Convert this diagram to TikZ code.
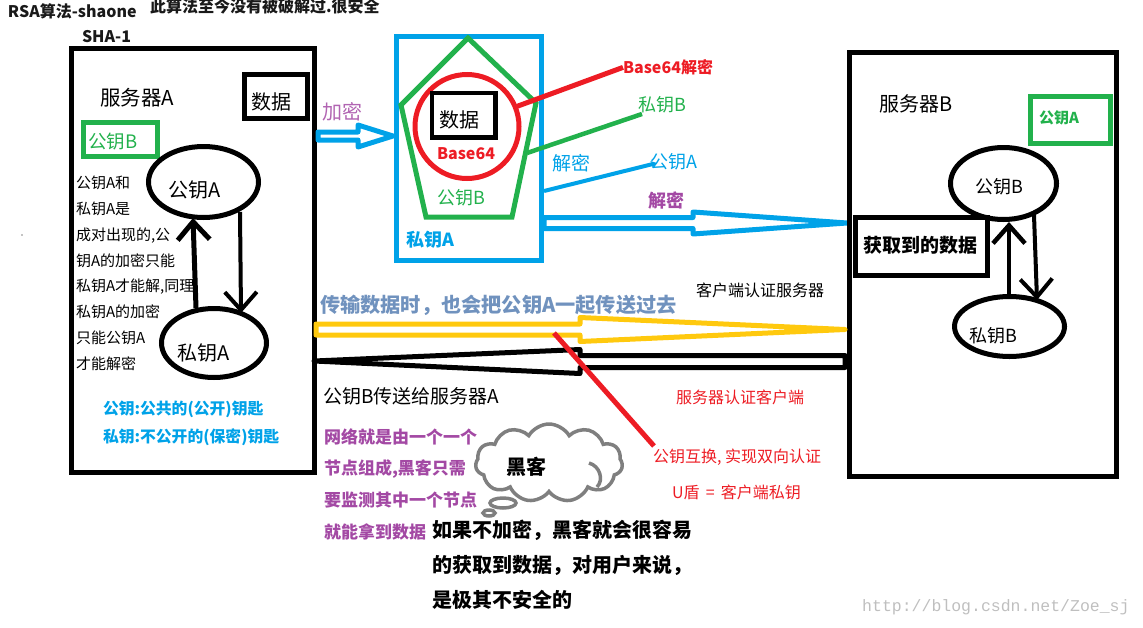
\documentclass[tikz,border=0pt]{standalone}
\usepackage{fontspec}
\setmainfont{Noto Sans CJK SC}
\newfontfamily\markfont{Liberation Mono}
\usetikzlibrary{calc,arrows.meta,shapes.geometric,shapes.symbols}
\definecolor{skyline}{HTML}{00A2E8}
\definecolor{leaf}{HTML}{22B14C}
\definecolor{alarm}{HTML}{ED1C24}
\definecolor{plum}{HTML}{A349A4}
\definecolor{amber}{HTML}{FFC90E}
\definecolor{steel}{HTML}{7092BE}
\definecolor{smoke}{HTML}{7F7F7F}
\tikzset{
    txt/.style={anchor=mid west, inner sep=0pt, outer sep=0pt, yshift={-0.24pt*#1}, font=\fontsize{#1}{#1}\selectfont},
    btxt/.style={anchor=mid west, inner sep=0pt, outer sep=0pt, yshift={-0.24pt*#1}, font=\fontsize{#1}{#1}\selectfont\bfseries},
    frame/.style={draw=#1, line width=5pt, rectangle, inner sep=0pt, outer sep=0pt, anchor=north west},
    keyoval/.style={draw, line width=5pt, ellipse, inner sep=0pt, outer sep=0pt},
    barbed/.style={line width=#1, -{Straight Barb[length=18pt,width=32pt]}},
    hollow/.style={draw=#1, line width=5pt, line join=round},
    thought/.style={draw=smoke, line width=3.5pt, ellipse, inner sep=0pt, outer sep=0pt},
}
\newcommand{\hollowarrow}[6]{
\draw[hollow=#1] ($(#2)+(0,-#5)$) -- ($(#3|-#2)+(0,-#5)$) -- ($(#3|-#2)+(0,-#6)$) -- (#4) -- ($(#3|-#2)+(0,#6)$) -- ($(#3|-#2)+(0,#5)$) -- ($(#2)+(0,#5)$) -- cycle;
}
\begin{document}
\begin{tikzpicture}[x=1pt,y=-1pt]
\useasboundingbox (0,0) rectangle (1143,627);
\node[btxt=16, text=black!90] (title) at (8,11) {RSA算法-shaone};
\node[btxt=16, text=black!90] (safe) at (150,6) {此算法至今没有被破解过.很安全};
\node[btxt=16, text=black!90] (sha) at (82,36) {SHA-1};
\fill (22,235) circle (0.7);

\node[frame=black, minimum width=243pt, minimum height=423.5pt] (serverA) at (71.5,48.5) {};
\node[txt=20.5] (serverAname) at (100,98) {服务器A};
\node[frame=black, line width=4.5pt, minimum width=63pt, minimum height=44pt] (dataA) at (244.5,74.5) {};
\node[txt=20] (dataAtext) at (251,102) {数据};
\node[frame=leaf, line width=4.5pt, minimum width=74pt, minimum height=34pt] (pubBboxA) at (83.5,122.5) {};
\node[txt=18.5, text=leaf] (pubBtextA) at (88,141) {公钥B};
\node[keyoval, minimum width=110pt, minimum height=71pt] (pubA) at (203.5,182) {};
\node[txt=20] (pubAtext) at (168,190) {公钥A};
\node[keyoval, minimum width=105pt, minimum height=69pt] (privA) at (214,343) {};
\node[txt=20] (privAtext) at (177,353) {私钥A};
\coordinate (privAtop) at (196,308);
\coordinate (pubAhit) at (193,218);
\coordinate (pubAlow) at (240,212);
\coordinate (privAhit) at (241,313);
\draw[barbed=5pt] (privAtop) -- (pubAhit);
\draw[barbed=4pt] (pubAlow) -- (privAhit);
\node[txt=15] (noteA) at (76,182) {公钥A和};
\node[txt=15] (noteB) at (76,208) {私钥A是};
\node[txt=15] (noteC) at (76,234) {成对出现的,公};
\node[txt=15] (noteD) at (76,260) {钥A的加密只能};
\node[txt=15] (noteE) at (76,285) {私钥A才能解,同理};
\node[txt=15] (noteF) at (76,311) {私钥A的加密};
\node[txt=15] (noteG) at (76,337) {只能公钥A};
\node[txt=15] (noteH) at (76,363) {才能解密};
\node[btxt=15.8, text=skyline] (pubmean) at (103,408) {公钥:公共的(公开)钥匙};
\node[btxt=15.8, text=skyline] (privmean) at (103,436) {私钥:不公开的(保密)钥匙};

\node[txt=20, text=plum!85] (encrypt) at (322,112) {加密};
\coordinate (encTail) at (318,136);
\coordinate (encNeck) at (358,136);
\coordinate (encTip) at (393,136);
\hollowarrow{skyline}{encTail}{encNeck}{encTip}{4}{11}

\node[frame=skyline, minimum width=145.5pt, minimum height=224.5pt] (vault) at (396,36) {};
\coordinate (penA) at (468,38);
\coordinate (penB) at (536,103);
\coordinate (penC) at (512,217);
\coordinate (penD) at (426,217);
\coordinate (penE) at (401,105);
\draw[leaf, line width=5pt] (penA) -- (penB) -- (penC) -- (penD) -- (penE) -- cycle;
\node[draw=alarm, line width=5pt, circle, minimum size=104pt, inner sep=0pt, outer sep=0pt] (seal) at (467,126.5) {};
\node[frame=black, line width=4.5pt, minimum width=63.5pt, minimum height=44.5pt] (dataV) at (432.2,93.2) {};
\node[txt=20] (dataVtext) at (439,120) {数据};
\node[btxt=16, text=alarm] (base) at (437,153) {Base64};
\node[txt=18, text=leaf] (pubBv) at (437,197) {公钥B};
\node[btxt=18, text=skyline] (privAv) at (406,239) {私钥A};

\node[btxt=16, text=alarm] (baseOut) at (623,67) {Base64解密};
\node[txt=18, text=leaf] (privBout) at (638,104) {私钥B};
\node[txt=19, text=skyline] (decrypt) at (552,163) {解密};
\node[txt=18, text=skyline] (pubAout) at (650,161) {公钥A};
\node[btxt=18, text=plum] (decryptB) at (648,200) {解密};
\coordinate (privBend) at (642,114);
\coordinate (penMark) at (527,153);
\coordinate (vaultMark) at (544,191);
\coordinate (pubAend) at (657,163);
\draw[alarm, line width=5pt] (seal.22) -- (baseOut.west);
\draw[leaf, line width=4.5pt] (penMark) -- (privBend);
\draw[skyline, line width=4pt, -{Stealth[length=6pt,width=7pt]}] (vaultMark) -- (pubAend);

\coordinate (sendTail) at (544,223);
\coordinate (sendNeck) at (693,223);
\coordinate (sendTip) at (847,223);
\hollowarrow{skyline}{sendTail}{sendNeck}{sendTip}{5.5}{11}

\node[frame=black, minimum width=267pt, minimum height=424pt] (serverB) at (849.5,52.5) {};
\node[txt=20] (serverBname) at (879,104) {服务器B};
\node[frame=leaf, minimum width=80pt, minimum height=47pt] (pubAboxB) at (1030.5,96.5) {};
\node[btxt=15, text=leaf] (pubAtextB) at (1039,117) {公钥A};
\node[keyoval, minimum width=106pt, minimum height=72pt] (pubB) at (1003.5,183.5) {};
\node[txt=18] (pubBtext) at (975,186) {公钥B};
\node[keyoval, minimum width=110pt, minimum height=60pt] (privB) at (1009.5,326.5) {};
\node[txt=18] (privBtext) at (969,335) {私钥B};
\coordinate (privBtop) at (1009,294);
\coordinate (pubBhit) at (1009,222);
\coordinate (pubBlow) at (1034,215);
\coordinate (privBhit) at (1037,300);
\draw[barbed=4.5pt] (privBtop) -- (pubBhit);
\draw[barbed=4pt] (pubBlow) -- (privBhit);
\node[frame=black, fill=white, minimum width=132pt, minimum height=58pt] (gotbox) at (855.5,217.5) {};
\node[btxt=19] (gottext) at (863,245) {获取到的数据};

\node[btxt=20.2, text=steel] (carry) at (320,305) {传输数据时，也会把公钥A一起传送过去};
\coordinate (amberTail) at (316,329.5);
\coordinate (amberNeck) at (580,329.5);
\coordinate (amberTip) at (845,329.5);
\hollowarrow{amber}{amberTail}{amberNeck}{amberTip}{5.5}{12}
\coordinate (blackTail) at (845,361.5);
\coordinate (blackNeck) at (580,361.5);
\coordinate (blackTip) at (314,361);
\hollowarrow{black}{blackTail}{blackNeck}{blackTip}{6}{12}

\node[txt=16] (clientauth) at (696,290) {客户端认证服务器};
\node[txt=19] (sendback) at (323,396) {公钥B传送给服务器A};
\node[txt=16, text=alarm] (serverauth) at (676,397) {服务器认证客户端};
\node[txt=16, text=alarm] (swap) at (653,456) {公钥互换, 实现双向认证};
\node[txt=16, text=alarm] (ushield) at (672,492) {U盾 \,=\, 客户端私钥};
\coordinate (crossing) at (554,333);
\coordinate (swapTop) at (654,446);
\draw[alarm, line width=5pt] (crossing) -- (swapTop);

\node[btxt=17, text=plum] (netA) at (324,437) {网络就是由一个一个};
\node[btxt=17, text=plum] (netB) at (324,468) {节点组成,黑客只需};
\node[btxt=17, text=plum] (netC) at (324,500) {要监测其中一个节点};
\node[btxt=17, text=plum] (netD) at (324,532) {就能拿到数据};

\node[cloud, cloud puffs=11, cloud puff arc=120, aspect=1.9, draw=smoke, line width=3.5pt, minimum width=147pt, minimum height=78pt, inner sep=0pt, outer sep=0pt] (hacker) at (549,463) {};
\node[btxt=20] (hackertext) at (506,467) {黑客};
\draw[smoke, line width=3.5pt] (589,463) .. controls (600,466) and (604,480) .. (597,487);
\node[thought, minimum width=26pt, minimum height=10pt] (puffA) at (503,503) {};
\node[thought, minimum width=12pt, minimum height=6pt] (puffB) at (489,513) {};

\node[btxt=20] (warnA) at (432,530) {如果不加密，黑客就会很容易};
\node[btxt=20] (warnB) at (432,565) {的获取到数据，对用户来说，};
\node[btxt=20] (warnC) at (432,600) {是极其不安全的};
\node[anchor=mid west, inner sep=0pt, text=black!25, font=\fontsize{16.5}{16.5}\markfont] (watermark) at (862,609) {http://blog.csdn.net/Zoe\_sj};
\end{tikzpicture}
\end{document}
